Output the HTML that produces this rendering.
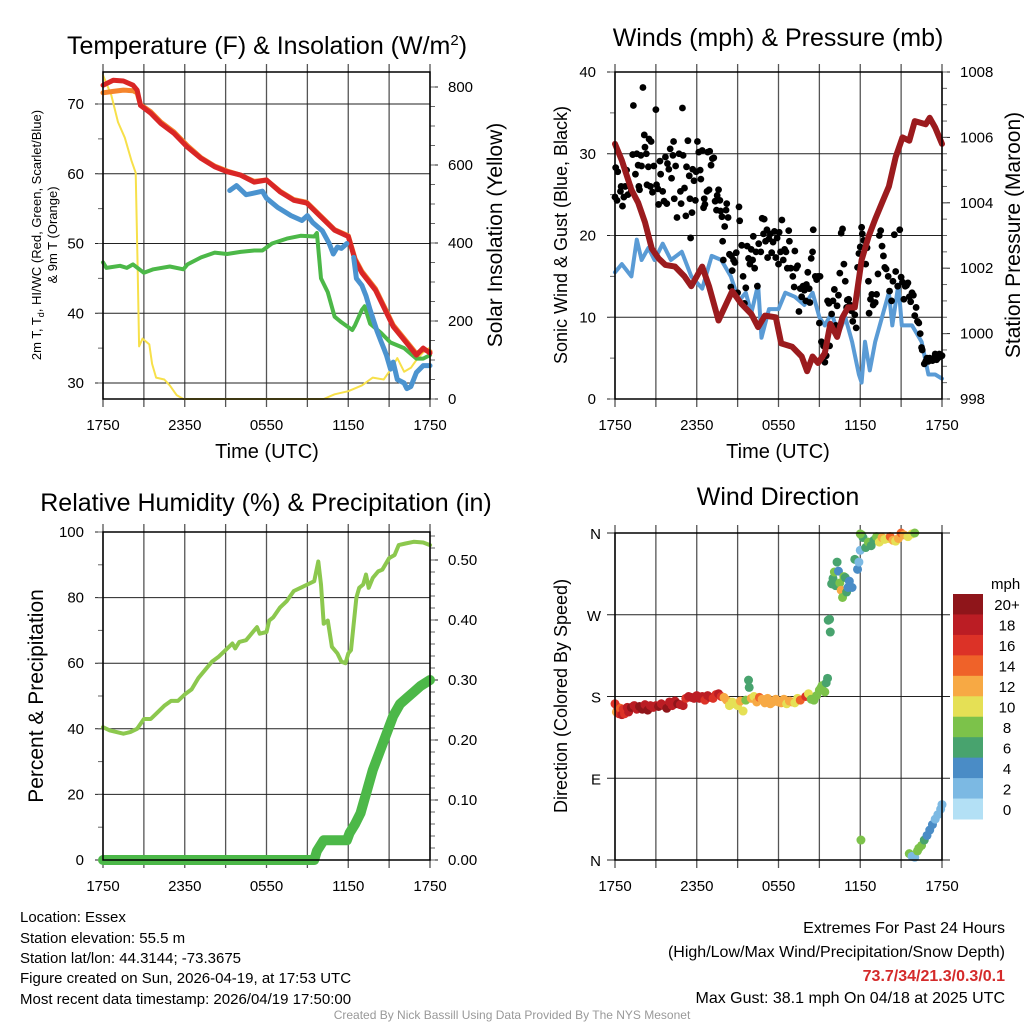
<!DOCTYPE html>
<html><head><meta charset="utf-8"><style>
html,body{margin:0;padding:0;background:#fff}
svg{display:block;font-family:"Liberation Sans",Arial,sans-serif}
</style></head><body>
<svg id="c" width="1024" height="1024" viewBox="0 0 1024 1024" xmlns="http://www.w3.org/2000/svg">
<rect width="1024" height="1024" fill="#fff"/>
<g id="layer"></g>
<text x="267" y="54" font-size="25" text-anchor="middle">Temperature (F) &amp; Insolation (W/m<tspan dy="-9" font-size="15">2</tspan><tspan dy="9">)</tspan></text>
<text x="778" y="46" font-size="25" text-anchor="middle">Winds (mph) &amp; Pressure (mb)</text>
<text x="266" y="511" font-size="25" text-anchor="middle">Relative Humidity (%) &amp; Precipitation (in)</text>
<text x="778" y="505" font-size="25" text-anchor="middle">Wind Direction</text>
<text x="267" y="458" font-size="20" text-anchor="middle">Time (UTC)</text>
<text x="778" y="458" font-size="20" text-anchor="middle">Time (UTC)</text>
<g transform="translate(41,235) rotate(-90)" font-size="13" text-anchor="middle"><text x="0" y="0">2m T, T<tspan font-size="9" dy="3">d</tspan><tspan dy="-3">, HI/WC (Red, Green, Scarlet/Blue)</tspan></text><text x="0" y="16">&amp; 9m T (Orange)</text></g>
<text transform="translate(502,235) rotate(-90)" font-size="21" text-anchor="middle">Solar Insolation (Yellow)</text>
<text transform="translate(567,235) rotate(-90)" font-size="18" text-anchor="middle">Sonic Wind &amp; Gust (Blue, Black)</text>
<text transform="translate(1020,235) rotate(-90)" font-size="21" text-anchor="middle">Station Pressure (Maroon)</text>
<text transform="translate(43,696) rotate(-90)" font-size="21" text-anchor="middle">Percent &amp; Precipitation</text>
<text transform="translate(567,696) rotate(-90)" font-size="18" text-anchor="middle">Direction (Colored By Speed)</text>
<g font-size="15">
<text x="20" y="922">Location: Essex</text>
<text x="20" y="943">Station elevation: 55.5 m</text>
<text x="20" y="963">Station lat/lon: 44.3144; -73.3675</text>
<text x="20" y="983">Figure created on Sun, 2026-04-19, at 17:53 UTC</text>
<text x="20" y="1004">Most recent data timestamp: 2026/04/19 17:50:00</text>
</g>
<g font-size="16" text-anchor="end">
<text x="1005" y="933">Extremes For Past 24 Hours</text>
<text x="1005" y="957">(High/Low/Max Wind/Precipitation/Snow Depth)</text>
<text x="1005" y="981" fill="#d42a2a" font-weight="bold">73.7/34/21.3/0.3/0.1</text>
<text x="1005" y="1003">Max Gust: 38.1 mph On 04/18 at 2025 UTC</text>
</g>
<text x="512" y="1019" font-size="12" fill="#999" text-anchor="middle">Created By Nick Bassill Using Data Provided By The NYS Mesonet</text>
</svg>
<script>
// ---- data ----
const xTickLabels=["1750","2350","0550","1150","1750"];
const tempTicks=[30,40,50,60,70];
const solarTicks=[0,200,400,600,800];
const windTicks=[0,10,20,30,40];
const presTicks=[998,1000,1002,1004,1006,1008];
const rhTicks=[0,20,40,60,80,100];
const precipTicks=[0,0.1,0.2,0.3,0.4,0.5];
const dirTickLabels=["N","E","S","W","N"];
const dirTicks=[0,90,180,270,360];

const redT=[0,0.75,1.5,2.2,2.5,2.75,3.5,4.25,5.2,6.2,7.2,8.2,9.1,10.1,11.1,12,13,14,14.95,16,17,18,18.5,19,20,20.6,21.3,22.3,23,23.5,24];
const redV=[72.7,73.4,73.3,72.7,72,69.8,68.7,67.2,65.8,63.8,62.2,61,60.3,59.8,58.8,59.1,57.4,56.2,55.8,53.8,51.9,51,47.6,45.8,43.3,40.9,38.1,35.7,34,35,34.3];
const orangeT=[0,0.75,1.5,2.2,2.5,2.75,3.5,4.25,5.2,6.2,7.2,8.2,9.1,10.1,11.1,12,13,14,14.95,16,17,18,18.5,19,20,20.6,21.3,22.3,23,23.5,24];
const orangeV=[71.6,71.8,72,71.9,71.6,69.9,68.9,67.4,66,64,62.3,61.1,60.4,59.8,58.9,59.1,57.5,56.3,55.9,53.9,52,51.1,47.8,46,43.5,41.1,38.3,35.9,34.2,34.8,34.5];
const blueT=[9.3,9.8,10.5,11,11.7,12,12.8,13.8,14.6,15,15.4,16.1,16.6,16.9,17.2,17.5,17.9];
const blueV=[57.6,58.3,57,57.2,57.5,56.5,55.2,54,53.3,54,53,51.8,50,48.5,49.5,49.3,50];
const blue2T=[18.4,18.6,19,19.3,19.6,20.1,20.4,20.6,20.8,21.1,21.3,21.6,22.1,22.3,22.6,23,23.5,24];
const blue2V=[48,45,44,42.5,40.5,37.5,36,35,34,32,33,30.5,30,29.2,29.5,31.5,32.5,32.5];
const greenT=[0,0.25,1.25,1.75,2.2,3,3.7,4.9,5.9,6.2,7.2,8.2,9.1,10.1,11.1,11.7,12.4,13.5,14.5,15.5,15.7,16,16.5,17,17.5,18.3,18.5,19,19.2,19.6,20.4,21.1,22.1,23,23.5,24];
const greenV=[47.3,46.5,46.8,46.5,47,45.8,46.3,46.7,46.3,47,48,48.7,48.5,48.8,49,49,50,50.7,51.1,51,51.5,45,43,39.5,38.7,37.6,38.3,40.5,41,38.5,37.2,35.8,35,33.5,33.5,34];
const solarT=[0,0.6,1.1,1.6,2.1,2.4,2.55,2.65,2.9,3.4,3.6,3.9,4.5,4.9,5.4,5.9,16.2,17,18,19,19.8,20.6,21.1,21.6,22.1,22.6,23,23.5,23.9,24];
const solarV=[830,780,710,670,610,580,330,135,155,140,90,55,50,35,10,0,0,12,20,35,55,50,75,105,70,80,100,120,130,115];

const windT=[0,0.5,1.2,1.6,1.95,2.45,2.9,3.5,4.1,4.9,5.6,6.4,7.1,7.8,8.5,9.1,9.6,10,10.5,10.75,11.3,12,12.5,13.2,13.9,14.5,15,15.4,15.9,16.4,16.9,17.4,17.9,18.1,18.35,18.7,19.1,19.6,20.1,20.35,20.8,21.05,21.8,22.5,23,23.5,24];
const windV=[15.5,16.5,15,19.5,17,18.5,17,19,17,18,15,13.5,17.5,17,15,12,13,10.5,14,7.5,11,11,13,12.5,11.5,13,10,9,10.5,8,10,7,3,2,7,3.5,7,10,13,9,14,9,9,7,3,3,2.5];
const presT=[0,0.5,1.2,1.7,2.2,2.7,3.2,3.7,4.4,5.1,5.6,6.4,6.9,7.6,8.6,9.3,10,10.5,11,11.8,12.2,13,13.7,14.1,14.5,14.9,15.4,15.8,16.3,16.7,17.1,17.6,18.1,18.6,19.1,19.6,20.1,20.6,21.1,21.6,22,22.8,23.1,23.5,24];
const presV=[1005.8,1005.3,1004.4,1004,1003.4,1002.6,1002.3,1002.1,1002.05,1001.75,1001.45,1002.05,1001.45,1000.4,1001.3,1000.9,1000.6,1000.2,1000.55,1000.5,999.7,999.6,999.3,998.85,999.3,999.1,999.4,1000.3,999.9,1000.5,1000.8,1000.8,1002.25,1002.95,1003.5,1004,1004.5,1005.4,1006,1005.9,1006.5,1006.4,1006.6,1006.3,1005.8];
const gustT=[0,0.05,0.15,0.2,0.4,0.45,0.55,0.65,0.75,0.85,0.95,1.1,1.2,1.3,1.35,1.5,1.6,1.7,1.75,1.8,1.9,1.95,2.05,2.15,2.2,2.3,2.35,2.45,2.5,2.6,2.65,2.75,2.85,3,3.05,3.15,3.2,3.3,3.35,3.5,3.6,3.7,3.8,3.85,3.95,4.05,4.15,4.25,4.3,4.35,4.45,4.55,4.7,4.8,4.85,4.95,5,5.1,5.2,5.25,5.35,5.45,5.5,5.55,5.65,5.7,5.8,5.9,5.95,6.05,6.15,6.25,6.3,6.4,6.5,6.55,6.6,6.75,6.8,6.9,6.95,7.05,7.15,7.25,7.35,7.45,7.5,7.6,7.7,7.75,7.85,7.9,7.95,8.05,8.15,8.2,8.3,8.4,8.5,8.55,8.6,8.7,8.8,8.9,9,9.1,9.15,9.3,9.4,9.5,9.6,9.7,9.8,9.9,10,10.1,10.15,10.25,10.35,10.45,10.55,10.7,10.8,10.9,10.95,11.05,11.15,11.2,11.3,11.4,11.5,11.6,11.7,11.8,11.9,12,12.05,12.15,12.25,12.35,12.45,12.55,12.65,12.75,12.8,12.9,13.05,13.15,13.2,13.3,13.4,13.5,13.6,13.7,13.8,13.9,14,14.05,14.15,14.25,14.3,14.4,14.5,14.55,14.7,14.8,14.9,15,15.05,15.15,15.3,15.4,15.5,15.6,15.7,15.75,15.9,16,16.1,16.2,16.3,16.4,16.5,16.6,16.7,16.8,16.9,17,17.05,17.15,17.25,17.35,17.45,17.6,17.7,17.8,17.9,18,18.1,18.15,18.25,18.4,18.5,18.6,18.65,18.75,18.85,18.95,19.1,19.2,19.3,19.4,19.5,19.6,19.7,19.8,19.9,20.05,20.15,20.3,20.4,20.5,20.6,20.75,20.9,21,21.1,21.2,21.3,21.4,21.5,21.6,21.7,21.8,21.9,22,22.1,22.2,22.3,22.4,22.5,22.55,22.7,22.8,22.9,23,23.1,23.2,23.3,23.4,23.5,23.6,23.7,23.8,23.9,24];
const gustV=[24.7,28.3,24.3,27.8,25.4,26,23.6,24.7,26,28,25,26,25.5,29.9,35.9,27.5,30,28.6,26,25.6,29.8,28.5,38.1,32.3,30.8,30,26.2,28.4,31.8,26,31.5,25.3,28.5,35.4,26.2,25.7,23.8,29.1,27.5,25.4,24.2,29.6,23.9,28.8,28.1,30.6,27,29.8,31.5,24.5,28.5,22.2,30,25.4,23.9,35.6,29.8,25.8,22.4,28.4,31.6,27.3,24.5,19.7,22.8,28.1,26.7,24.3,27.8,31.5,30.2,28,26.9,30.4,23.4,24.5,23.8,25.4,30.2,25.6,30.3,28.6,29.4,29.5,24.2,23.1,24.9,25.6,24.3,23,22.3,19.3,17,21.1,23.1,23.9,22.2,17.7,13.7,17.5,15.7,17,16.7,17.9,13,23.5,21.8,18.8,15,11.7,13.6,18.7,17.2,16.5,18.3,17,19.9,16,18,13.8,19,18,22.1,20.2,22,19.3,20.7,17.3,19.6,20.2,17.9,19.2,20.5,17.3,19.7,16.5,20.4,18,21.9,17,18.3,18,16,20.6,19.3,16,15,13.7,18.1,16,16.3,10.7,13.5,12.5,13.8,13.3,12,14,15.5,13.5,11.8,17.2,18,20.7,15,14.6,15,9.3,15,7,6.5,4.5,5.3,12,11.7,6.5,10.4,12,13.4,9,11.4,12.7,15.4,20.3,20.8,16.5,14.4,11.2,12.1,12.2,11.5,10.8,9.5,10.3,8.7,16.1,17.8,18.6,21,20.2,19.4,16.5,18.5,14.4,10.5,12.2,12.8,11.5,11.8,12.8,15.3,20,20.6,18.7,17.5,16.1,15.9,15,13.2,12,14.4,20.1,15.6,13.8,20.7,14.9,14.3,12.2,13.8,13.9,14.2,12.5,11.9,13,12.7,10.2,11.2,9.5,9.3,8,6.3,6,4.3,4.6,5,4.6,5,4.8,4.7,5,5.5,4.8,5,5.5,5.2,5.3];

const rhT=[0,0.5,1,1.5,2,2.5,3,3.5,4,4.5,5,5.5,6,6.5,7,7.5,8,8.5,9,9.5,9.7,10,10.5,11,11.3,11.5,12,12.2,12.5,13,13.5,14,14.5,15,15.5,15.8,16,16.2,16.5,16.8,17.2,17.5,17.8,18,18.2,18.6,18.8,19.1,19.3,19.5,19.8,20.2,20.5,21,21.4,21.7,22.2,22.8,23.5,24];
const rhV=[40.5,39.5,39,38.5,39,40,43,43,45,47,48.5,48.5,50.5,52,55.5,58,60.5,62,64,66,64.5,66.5,67,69.5,71,69,69.5,73,74,77,79,82,83,84,85,91,84,72,73,65,63,60.5,60,63,64,80,83,84,87,83,86,88,88.5,92,93,96,96.5,97,96.8,96];
const precipT=[0,15.5,15.7,16.2,17.9,18.1,18.5,18.9,19.3,19.8,20.3,20.8,21.3,21.8,22.3,22.8,23.3,24];
const precipV=[0,0,0.015,0.033,0.033,0.045,0.06,0.078,0.11,0.15,0.18,0.21,0.24,0.26,0.27,0.28,0.29,0.30];

const dirT=[0,0.1,0.2,0.3,0.4,0.5,0.6,0.7,0.8,0.9,1,1.2,1.4,1.6,1.8,2,2.2,2.4,2.6,2.8,3,3.2,3.4,3.6,3.8,4,4.2,4.4,4.6,4.8,5,5.2,5.4,5.6,5.8,6,6.2,6.4,6.6,6.8,7,7.2,7.4,7.6,7.8,8,8.2,8.4,8.6,8.8,9,9.2,9.4,9.6,9.8,9.85,10,10.2,10.4,10.6,10.8,11,11.2,11.4,11.6,11.8,12,12.2,12.4,12.6,12.8,13,13.2,13.4,13.6,14,14.2,14.4,14.6,14.8,15,15.1,15.2,15.4,15.5,15.6,15.65,15.75,15.8,15.9,16,16.1,16.2,16.3,16.4,16.5,16.6,16.7,16.8,16.9,17,17.1,17.2,17.4,17.6,17.8,17.9,18,18.1,18.2,18.4,18.6,18.8,19,19.2,19.4,19.6,19.8,20,20.2,20.4,20.6,20.8,21,21.2,21.5,21.8,22,18.0,18.05,21.6,21.8,22,22.2,22.3,22.5,22.7,22.9,23.1,23.3,23.5,23.7,23.9,24];
const dirV=[172,163,168,161,167,160,166,161,164,168,163,168,170,166,169,166,171,165,170,168,170,169,172,170,167,174,170,175,172,171,170,178,180,179,178,181,178,180,176,181,179,178,182,183,180,179,176,170,174,172,170,175,164,176,198,190,178,180,174,179,177,173,178,172,174,177,174,173,177,172,175,174,173,178,176,180,183,177,176,181,187,189,192,185,195,200,264,265,251,304,310,317,302,328,318,305,297,289,312,311,295,300,307,300,331,320,328,341,358,355,344,350,346,352,356,350,355,353,354,356,352,351,354,360,358,356,359,360,359,22,7,4,3,10,13,16,22,27,33,39,45,50,56,61,63];
const dirS=[17,12,16,16,15,18,16,16,17,18,19,20,18,19,20,21,19,20,19,18,19,20,18,19,20,19,18,19,20,18,18,17,18,18,19,18,19,18,17,19,18,17,16,18,16,13,12,10,11,11,10,12,10,9,6,7,12,10,13,14,12,12,12,12,13,13,13,12,12,11,12,12,11,10,14,16,10,9,8,9,8,8,8,9,7,6,6,6,7,6,7,8,7,6,5,8,12,8,8,6,6,5,4,4,7,4,2,3,8,7,7,8,6,7,8,11,12,11,10,14,12,11,12,15,13,10,11,8,8,8,8,2,2,8,8,8,7,4,4,4,3,2,3,2,2,3,2];

const barLabels=["20+","18","16","14","12","10","8","6","4","2","0"];
const barColors=["#8f151a","#bb1d24","#dc3227","#ef6229","#f7a944","#e5e055","#7cc24a","#48a36e","#4a8cc6","#7cb9e3","#b3e0f5"];
const speedColors=["#b3e0f5","#7cb9e3","#4a8cc6","#48a36e","#7cc24a","#e5e055","#f7a944","#ef6229","#dc3227","#bb1d24","#8f151a"];

// ---- helpers ----
const NS="http://www.w3.org/2000/svg";
const layer=document.getElementById('layer');
function mk(tag,attrs,parent){const e=document.createElementNS(NS,tag);for(const k in attrs)e.setAttribute(k,attrs[k]);(parent||layer).appendChild(e);return e;}
function lin(d0,d1,r0,r1){return v=>r0+(v-d0)*(r1-r0)/(d1-d0);}

function panel(name){
  const g=mk('g',{});
  
  
  return g;
}
function xAxis(g,x0,x1,y0,y1,labels,ly){
  const xs=lin(0,24,x0,x1);
  for(let h=0;h<=24;h+=3){
    const l=mk('line',{x1:xs(h),x2:xs(h),y1:y0-8,y2:y1+8,stroke:'#555','stroke-width':1.3},g);
    
    
  }
  labels.forEach((t,i)=>{
    const e=mk('text',{x:xs(i*6),y:ly,'font-size':15,'text-anchor':'middle'},g);
    e.textContent=t;
    
    
  });
  return xs;
}
function yLeft(g,x0,x1,ys,ticks,minorStep,fmt,lo,hi){
  ticks.forEach(v=>{
    const l=mk('line',{x1:x0-8,x2:x1,y1:ys(v),y2:ys(v),stroke:'#222','stroke-width':1},g);
    
    
    const e=mk('text',{x:x0-19,y:ys(v)+5,'font-size':15,'text-anchor':'end'},g);
    e.textContent=fmt(v);
    
    
  });
  if(minorStep) for(let v=lo;v<=hi+1e-9;v+=minorStep){mk('line',{x1:x0-5,x2:x0,y1:ys(v),y2:ys(v),stroke:'#666','stroke-width':1},g);}
}
function yRight(g,x1,ys,ticks,minorStep,fmt,lo,hi){
  ticks.forEach(v=>{
    mk('line',{x1:x1,x2:x1+8,y1:ys(v),y2:ys(v),stroke:'#222','stroke-width':1},g);
    const e=mk('text',{x:x1+18,y:ys(v)+5,'font-size':15,'text-anchor':'start'},g);
    e.textContent=fmt(v);
    
    
  });
  if(minorStep) for(let v=lo;v<=hi+1e-9;v+=minorStep){mk('line',{x1:x1,x2:x1+5,y1:ys(v),y2:ys(v),stroke:'#666','stroke-width':1},g);}
}
function frame(g,x0,x1,y0,y1){
  const r=mk('rect',{x:x0,y:y0,width:x1-x0,height:y1-y0,fill:'none',stroke:'#000','stroke-width':1.5},g);
  
  
}
function line(g,xs,ys,T,V,color,w,name){
  const p=mk('polyline',{points:T.map((t,i)=>xs(t).toFixed(1)+','+ys(V[i]).toFixed(1)).join(' '),fill:'none',stroke:color,'stroke-width':w,'stroke-linejoin':'round','stroke-linecap':'round'},g);
  
  
}

// ---- Panel 1: temperature ----
{
  const g=panel('temperature-chart');
  const x0=103,x1=430,y0=72,y1=399;
  const xs=xAxis(g,x0,x1,y0,y1,xTickLabels,430);
  const yT=lin(30,70,383,104), yS=lin(0,800,399,87);
  yLeft(g,x0,x1,yT,tempTicks,5,v=>v,30,70);
  yRight(g,x1,yS,solarTicks,50,v=>v,0,800);
  line(g,xs,yS,solarT,solarV,'#f7e04a',2,'solar-insolation-line');
  line(g,xs,yT,greenT,greenV,'#4cb848',4,'dewpoint-line');
  line(g,xs,yT,orangeT,orangeV,'#f5852d',5,'temp-9m-line');
  line(g,xs,yT,redT,redV,'#d92626',5,'temp-2m-line');
  line(g,xs,yT,blueT,blueV,'#4b93cf',5,'windchill-line');
  line(g,xs,yT,blue2T,blue2V,'#4b93cf',5,'windchill-line-2');
  frame(g,x0,x1,y0,y1);
}
// ---- Panel 2: winds ----
{
  const g=panel('wind-chart');
  const x0=615,x1=942,y0=72,y1=399;
  const xs=xAxis(g,x0,x1,y0,y1,xTickLabels,430);
  const yW=lin(0,40,399,72), yP=lin(998,1008,399,72);
  yLeft(g,x0,x1,yW,windTicks,5,v=>v,0,40);
  yRight(g,x1,yP,presTicks,0.5,v=>v,998,1008);
  line(g,xs,yW,windT,windV,'#5a9bd5',4,'sonic-wind-line');
  gustT.forEach((t,i)=>{
    const c=mk('circle',{cx:xs(t),cy:yW(gustV[i]),r:3.4,fill:'#000'},g);
    
    
  });
  line(g,xs,yP,presT,presV,'#9b1b1e',6,'pressure-line');
  frame(g,x0,x1,y0,y1);
}
// ---- Panel 3: RH & precip ----
{
  const g=panel('humidity-chart');
  const x0=103,x1=430,y0=532,y1=860;
  const xs=xAxis(g,x0,x1,y0,y1,xTickLabels,891);
  const yR=lin(0,100,860,532), yPr=lin(0,0.5,860,560);
  yLeft(g,x0,x1,yR,rhTicks,10,v=>v,0,100);
  yRight(g,x1,yPr,precipTicks,0.02,v=>v.toFixed(2),0,0.54);
  line(g,xs,yR,rhT,rhV,'#8cc84e',4,'relative-humidity-line');
  line(g,xs,yPr,precipT,precipV,'#4cb848',10,'precipitation-line');
  frame(g,x0,x1,y0,y1);
}
// ---- Panel 4: wind direction ----
{
  const g=panel('wind-direction-chart');
  const x0=615,x1=942,y0=533,y1=860;
  const xs=xAxis(g,x0,x1,y0,y1,xTickLabels,891);
  const yD=lin(0,360,860,533);
  dirTicks.forEach((v,i)=>{
    mk('line',{x1:x0-8,x2:x1+8,y1:yD(v),y2:yD(v),stroke:'#222','stroke-width':1},g);
    const e=mk('text',{x:x0-14,y:yD(v)+6,'font-size':15,'text-anchor':'end'},g);
    e.textContent=dirTickLabels[i];
    
    
  });
  dirT.forEach((t,i)=>{
    const b=Math.min(10,Math.floor(dirS[i]/2));
    const c=mk('circle',{cx:xs(t),cy:yD(dirV[i]),r:4.5,fill:speedColors[b]},g);
    
    
  });
  frame(g,x0,x1,y0,y1);
  const lg=mk('g',{},g);
  
  
  const t=mk('text',{x:991,y:589,'font-size':15},lg);t.textContent='mph';
  const bh=(819-594)/barColors.length;
  barColors.forEach((c,i)=>{
    const r=mk('rect',{x:953,y:594+i*bh,width:30,height:bh+0.5,fill:c},lg);
    
    
    const tx=mk('text',{x:1007,y:594+i*bh+bh/2+6,'font-size':15,'text-anchor':'middle'},lg);
    tx.textContent=barLabels[i];
  });
}
</script>
</body></html>
